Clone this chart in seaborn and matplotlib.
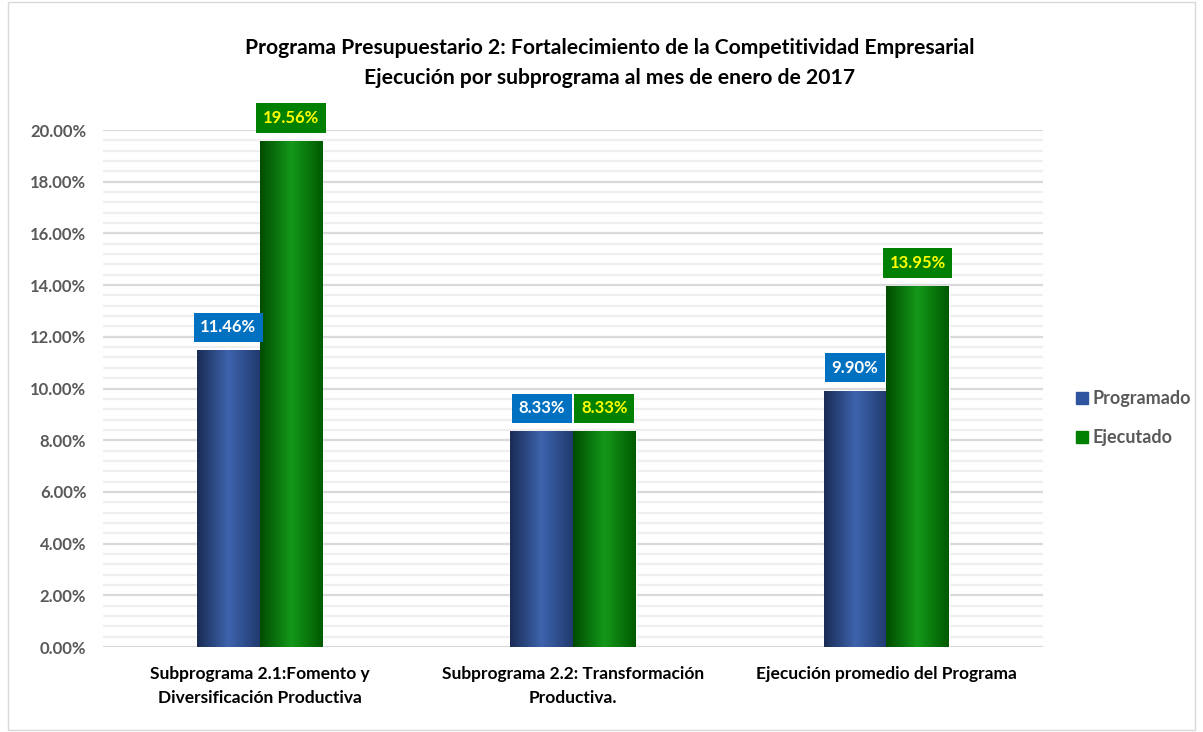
import numpy as np
import pandas as pd
import matplotlib
matplotlib.use("Agg")
import matplotlib.pyplot as plt
import seaborn as sns
from matplotlib.colors import LinearSegmentedColormap
from matplotlib.patches import Rectangle

# data
categorias = ["Subprograma 2.1:Fomento y\nDiversificación Productiva",
              "Subprograma 2.2: Transformación\nProductiva.",
              "Ejecución promedio del Programa"]
programado = [11.46, 8.33, 9.90]
ejecutado = [19.56, 8.33, 13.95]
series = ["Programado", "Ejecutado"]

df = pd.DataFrame({
    "Categoria": categorias * 2,
    "Serie": ["Programado"] * 3 + ["Ejecutado"] * 3,
    "Valor": programado + ejecutado,
})

sns.set_style("white")
plt.rcParams['font.family'] = ['Lato', 'DejaVu Sans']
plt.rcParams['font.weight'] = 'bold'

fig = plt.figure(figsize=(12.03, 7.32), dpi=100)
ax = fig.add_axes([103/1203, 1-647/732, 940/1203, 517/732])

palette = {"Programado": "#2f55a0", "Ejecutado": "#008000"}
sns.barplot(data=df, x="Categoria", y="Valor", hue="Serie", palette=palette,
            width=0.4, ax=ax, legend=False, saturation=1)

ax.set_ylim(0, 20)
ax.set_xlim(-0.5, 2.5)
ax.set_yticks(np.arange(0, 20.1, 2))
ax.set_yticklabels([f"{v:.2f}%" for v in np.arange(0, 20.1, 2)],
                   color="#595959", fontsize=12, fontweight="bold")
ax.set_yticks(np.arange(0, 20.1, 0.4), minor=True)
ax.grid(True, which="major", axis="y", color="#d9d9d9", lw=1.6, zorder=0)
ax.grid(True, which="minor", axis="y", color="#efefef", lw=1.6, zorder=0)
ax.set_axisbelow(True)
ax.tick_params(axis="both", which="both", length=0)
ax.tick_params(axis="y", pad=12)
ax.tick_params(axis="x", pad=14)
for lbl in ax.get_xticklabels():
    lbl.set_fontsize(12.5)
    lbl.set_fontweight("bold")
    lbl.set_color("black")
    lbl.set_linespacing(1.6)
for s in ax.spines.values():
    s.set_visible(False)
ax.set_xlabel("")
ax.set_ylabel("")

# gradient look on the bars
cmaps = {
    "Programado": LinearSegmentedColormap.from_list("p", ["#1a2c55", "#3e64ad", "#213a70"]),
    "Ejecutado": LinearSegmentedColormap.from_list("e", ["#004d00", "#14981a", "#005a00"]),
}
grad = np.linspace(0, 1, 100).reshape(1, -1)
bars = [p for p in ax.patches]
label_style = {
    "Programado": dict(fc="#0070c0", tc="white"),
    "Ejecutado": dict(fc="#008000", tc="#ffff00"),
}
for i, bar in enumerate(bars):
    serie = series[i // 3]
    x0, w, h = bar.get_x(), bar.get_width(), bar.get_height()
    ax.imshow(grad, extent=[x0, x0 + w, 0, h], aspect="auto",
              cmap=cmaps[serie], zorder=3)
    bar.set_zorder(2)
    st = label_style[serie]
    ax.annotate(f"{h:.2f}%", (x0 + w / 2, h), xytext=(0, 11), textcoords="offset points",
                ha="center", va="bottom", fontsize=12, fontweight="bold", color=st["tc"],
                bbox=dict(boxstyle="square,pad=0.4", fc=st["fc"], ec="none"), zorder=5)
ax.set_xlim(-0.5, 2.5)
ax.set_ylim(0, 20)

# legend
handles = [plt.Line2D([0], [0], marker="s", ls="", markersize=9,
                      markerfacecolor=palette[s], markeredgecolor=palette[s]) for s in series]
fig.legend(handles, series, loc="center left", bbox_to_anchor=(1068/1203, 1-418/732),
           frameon=False, handletextpad=0.15, labelspacing=1.2, handlelength=0.8,
           borderaxespad=0, prop={"weight": "bold", "size": 13}, labelcolor="#595959")

fig.text(610/1203, 1-63/732,
         "Programa Presupuestario 2: Fortalecimiento de la Competitividad Empresarial\n"
         "Ejecución por subprograma al mes de enero de 2017",
         ha="center", va="center", fontsize=15.2, fontweight="bold", linespacing=1.6,
         color="black")

fig.patches.append(Rectangle((8/1203, 2/732), 1187/1203, 728/732, transform=fig.transFigure,
                             fill=False, ec="#d9d9d9", lw=1))

fig.savefig("out.png", dpi=100)
